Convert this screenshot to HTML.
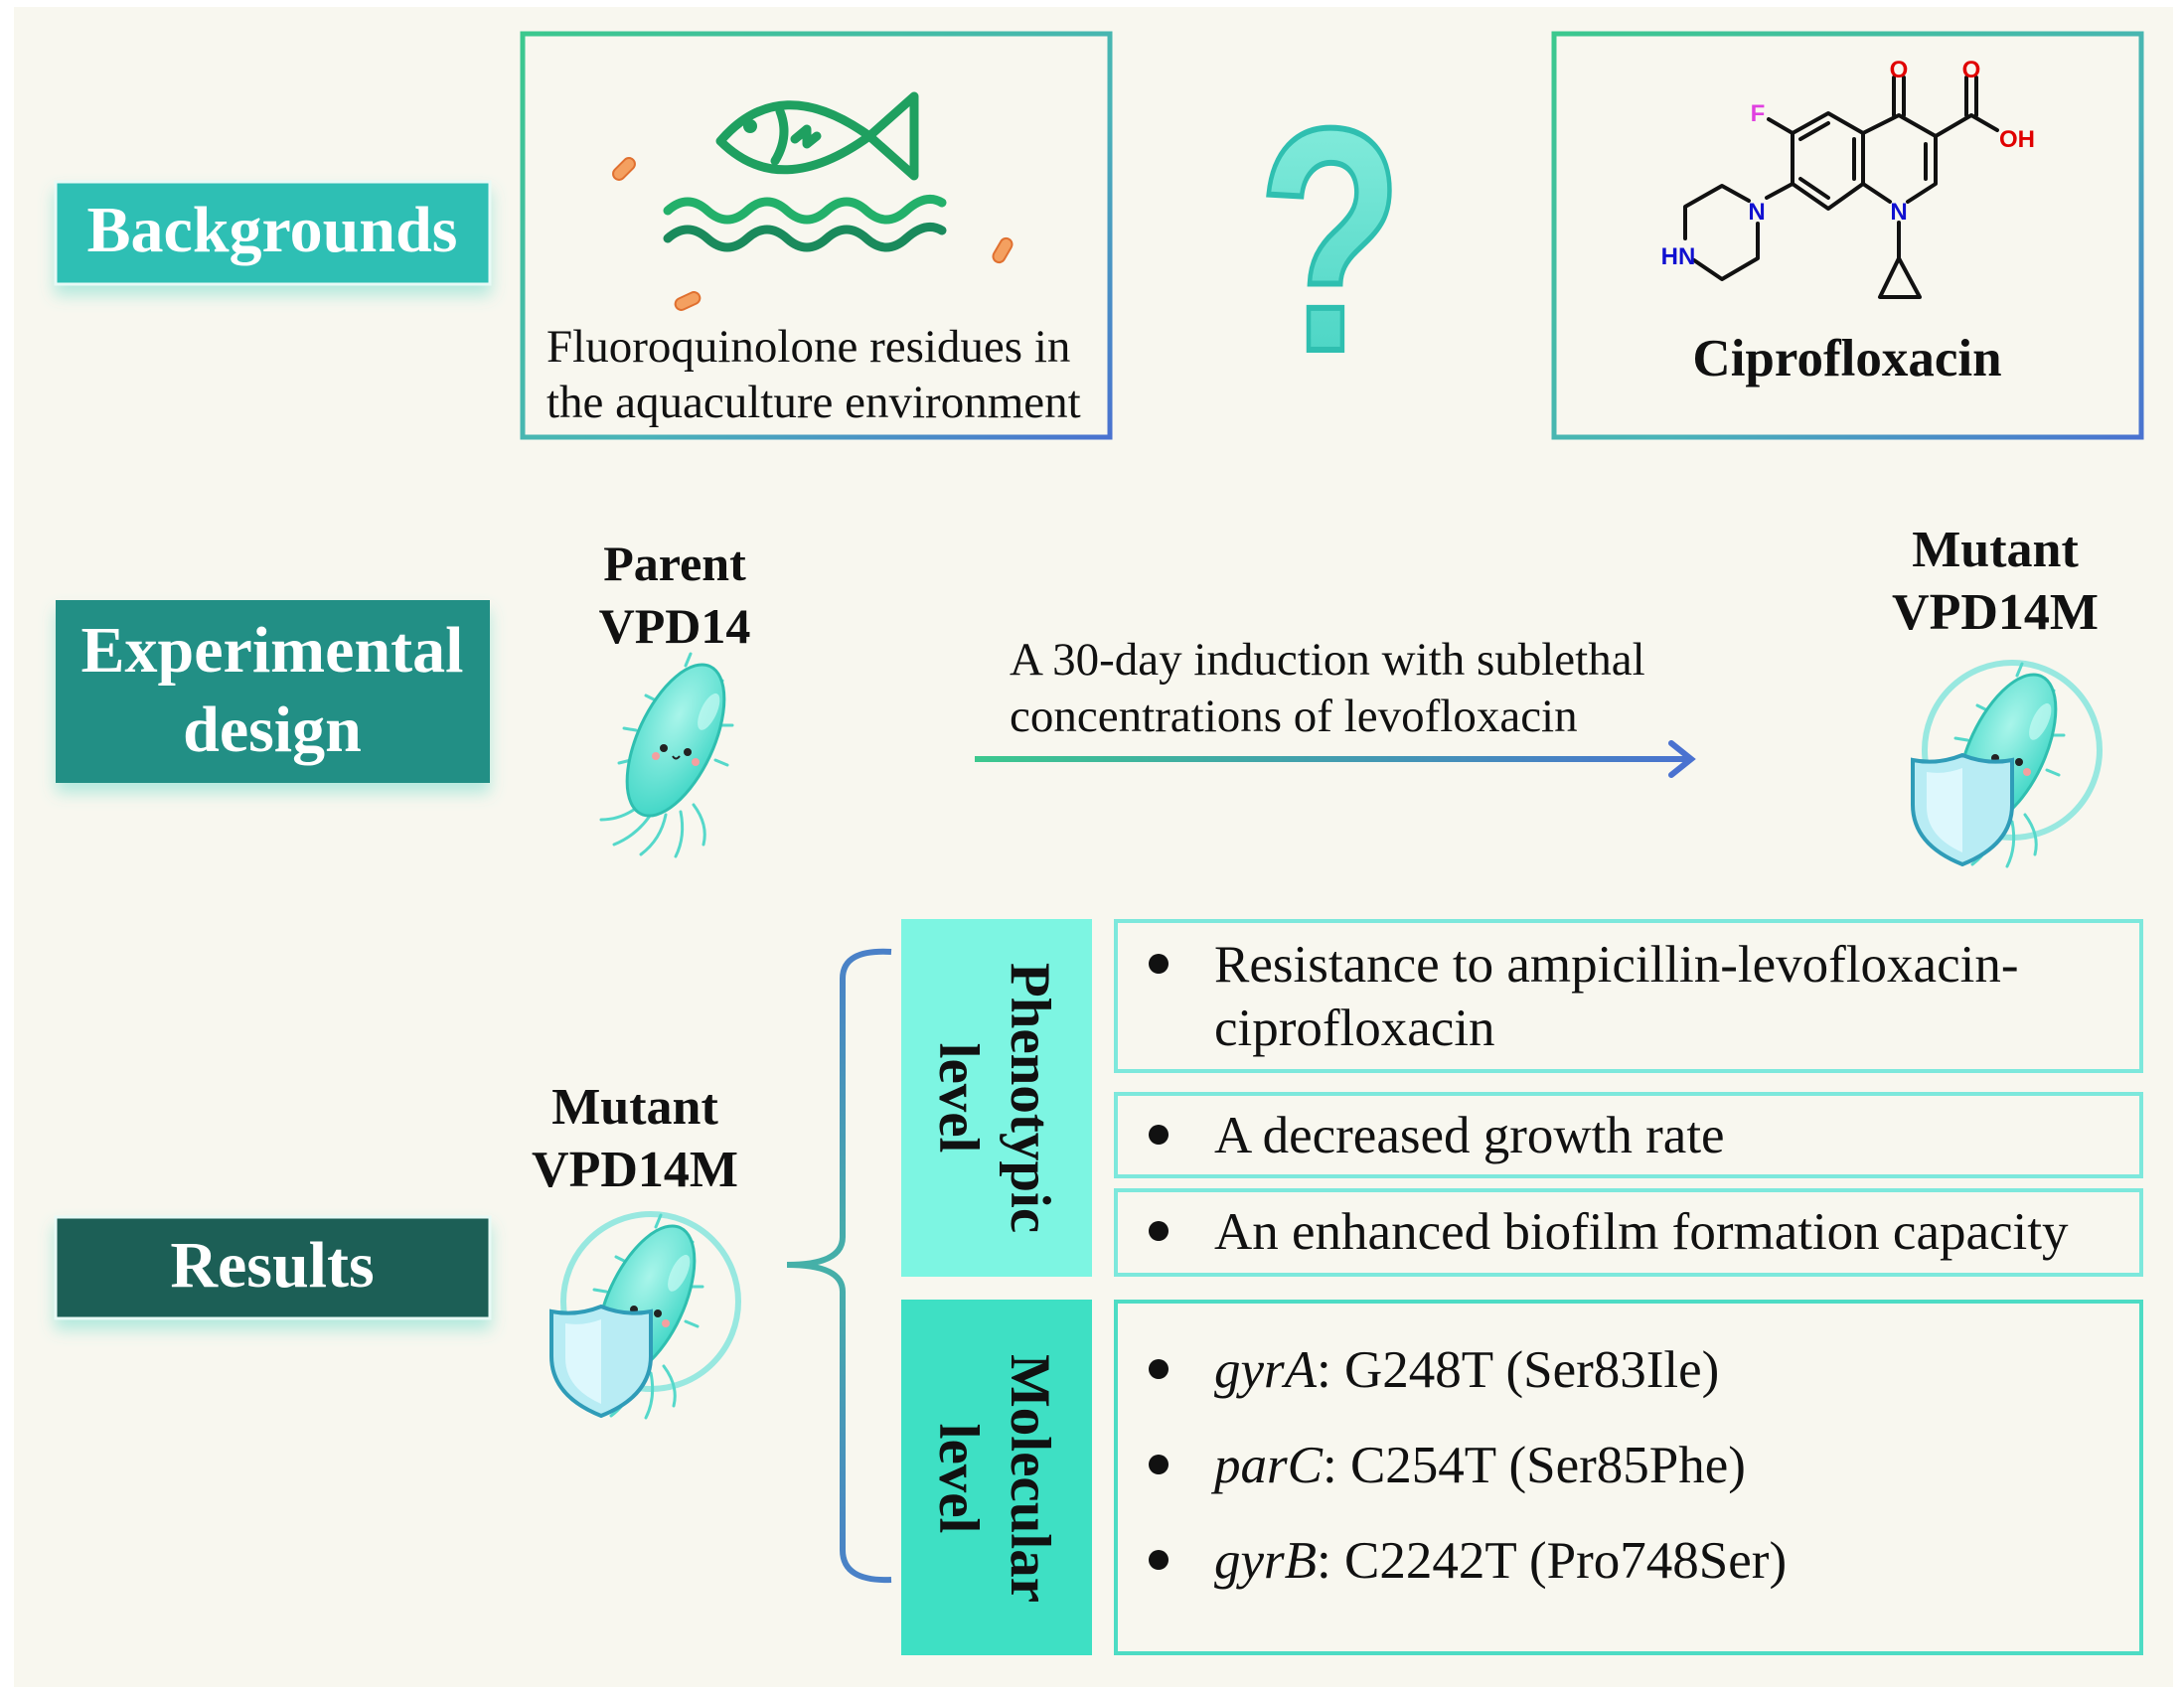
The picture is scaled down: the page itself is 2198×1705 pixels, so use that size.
<!DOCTYPE html>
<html><head><meta charset="utf-8"><style>
html,body{margin:0;padding:0;background:#fff;}
svg{display:block;}
text{font-family:"Liberation Serif",serif;}
text.sans{font-family:"Liberation Sans",sans-serif;}
</style></head><body>
<svg width="2198" height="1705" viewBox="0 0 2198 1705" xmlns="http://www.w3.org/2000/svg">
<defs>
<linearGradient id="gb" x1="0" y1="0" x2="1" y2="1"><stop offset="0" stop-color="#3cc88e"/><stop offset="0.6" stop-color="#4ab3b8"/><stop offset="1" stop-color="#4a72d0"/></linearGradient>
<linearGradient id="ga" gradientUnits="userSpaceOnUse" x1="981" y1="0" x2="1705" y2="0"><stop offset="0" stop-color="#3cc88e"/><stop offset="1" stop-color="#4a72d0"/></linearGradient>
<linearGradient id="gbr" gradientUnits="userSpaceOnUse" x1="0" y1="955" x2="0" y2="1592"><stop offset="0" stop-color="#4a80c8"/><stop offset="0.5" stop-color="#45b0a8"/><stop offset="1" stop-color="#4a80c8"/></linearGradient>
<linearGradient id="gq" x1="0" y1="0" x2="0" y2="1"><stop offset="0" stop-color="#8ff0e0"/><stop offset="1" stop-color="#3fd0c0"/></linearGradient>
<radialGradient id="gbody" cx="0.4" cy="0.35" r="0.7"><stop offset="0" stop-color="#a8f5ea"/><stop offset="1" stop-color="#3fd6c6"/></radialGradient>
<filter id="sh" x="-10%" y="-10%" width="120%" height="140%"><feDropShadow dx="0" dy="10" stdDeviation="8" flood-color="#5ed8c8" flood-opacity="0.45"/></filter>
<g id="bact">
  <g stroke="#55d8ca" stroke-width="3" fill="none" stroke-linecap="round">
    <path d="M-30 60 q-20 20 -45 20"/><path d="M-22 70 q-15 25 -40 35"/><path d="M-10 75 q-5 25 -25 40"/><path d="M5 72 q5 25 -5 45"/><path d="M18 65 q15 20 10 40"/>
    <path d="M-20 -40 l-10 -5"/><path d="M10 -75 l5 -12"/><path d="M35 -55 l12 -5"/><path d="M45 -15 l12 0"/><path d="M40 20 l12 5"/><path d="M-45 20 l-12 3"/><path d="M-40 -10 l-12 -2"/>
  </g>
  <ellipse cx="0" cy="0" rx="38" ry="82" transform="rotate(25)" fill="url(#gbody)" stroke="#2fbfb0" stroke-width="3"/>
  <ellipse cx="18" cy="-40" rx="8" ry="20" transform="rotate(25)" fill="#c8fbf3" opacity="0.7"/>
  <circle cx="-12" cy="8" r="4" fill="#222"/><circle cx="12" cy="12" r="4" fill="#222"/>
  <path d="M-3 16 q3 5 7 0" stroke="#222" stroke-width="2" fill="none"/>
  <circle cx="-20" cy="16" r="4" fill="#f4a0a0"/><circle cx="20" cy="22" r="4" fill="#f4a0a0"/>
</g>
<g id="mut">
  <circle cx="5" cy="0" r="88" fill="none" stroke="#7fe3dc" stroke-width="6" opacity="0.8"/>
  <use href="#bact"/>
  <path d="M-45 5 q-25 10 -50 5 v45 q0 40 50 60 q50 -20 50 -60 v-45 q-25 5 -50 -5z" fill="#b8ecf4" stroke="#2f9cb8" stroke-width="4"/>
  <path d="M-45 18 q-18 7 -36 4 v35 q0 30 36 46z" fill="#e6fbff" opacity="0.8"/>
</g>
</defs>
<rect x="14" y="7" width="2173" height="1691" fill="#f8f7ef"/>

<rect x="56" y="183" width="437" height="103" fill="#2fbfb4" stroke="#e8faf6" stroke-width="3" filter="url(#sh)"/>
<text x="274" y="253" font-size="66" font-weight="bold" fill="#fff" text-anchor="middle">Backgrounds</text>
<rect x="56" y="604" width="437" height="184" fill="#248f85" filter="url(#sh)"/>
<text x="274" y="676" font-size="66" font-weight="bold" fill="#fff" text-anchor="middle">Experimental</text>
<text x="274" y="756" font-size="66" font-weight="bold" fill="#fff" text-anchor="middle">design</text>
<rect x="56" y="1225" width="437" height="102" fill="#1b5f57" stroke="#e8faf6" stroke-width="3" filter="url(#sh)"/>
<text x="274" y="1295" font-size="66" font-weight="bold" fill="#fff" text-anchor="middle">Results</text>

<rect x="526" y="34" width="591" height="406" fill="none" stroke="url(#gb)" stroke-width="5"/>
<g fill="none" stroke="#1fa060" stroke-width="9" stroke-linecap="round" stroke-linejoin="round">
  <path d="M725 142 q60 -70 150 -5 q-90 65 -150 5z"/>
  <path d="M875 137 l45 -40 v80 z"/>
  <path d="M785 112 q10 25 -5 50"/>
  <path d="M800 140 l12 -10 v15 l10 -8"/>
</g>
<circle cx="755" cy="127" r="7" fill="#1fa060"/>
<path d="M672 212 q20 -18 40 0 t40 0 t40 0 t40 0 t40 0 t40 0 t36 -8" fill="none" stroke="#23b06a" stroke-width="9" stroke-linecap="round"/>
<path d="M672 240 q20 -18 40 0 t40 0 t40 0 t40 0 t40 0 t40 0 t36 -8" fill="none" stroke="#1a8a5c" stroke-width="9" stroke-linecap="round"/>
<g fill="#f4a060" stroke="#e07030" stroke-width="2">
  <rect x="-13" y="-6" width="26" height="12" rx="6" transform="translate(628,170) rotate(-45)"/>
  <rect x="-13" y="-6" width="26" height="12" rx="6" transform="translate(1009,252) rotate(-60)"/>
  <rect x="-13" y="-6" width="26" height="12" rx="6" transform="translate(692,303) rotate(-25)"/>
</g>
<text x="550" y="364" font-size="47" fill="#111">Fluoroquinolone residues in</text>
<text x="550" y="420" font-size="47" fill="#111">the aquaculture environment</text>

<text class="sans" transform="translate(1339,352) scale(0.75,1)" font-size="320" font-weight="bold" text-anchor="middle" fill="url(#gq)" stroke="#2fbfb0" stroke-width="6">?</text>

<rect x="1564" y="34" width="591" height="406" fill="none" stroke="url(#gb)" stroke-width="5"/>
<g stroke="#111" stroke-width="4" fill="none" stroke-linecap="round" stroke-linejoin="round">
  <path d="M1840 114 L1875 134 L1875 185 L1840 210 L1804 185 L1804 134 Z"/>
  <path d="M1875 134 L1911 116 L1948 137 L1948 185 L1920 203"/>
  <path d="M1902 203 L1875 185"/>
  <path d="M1812 140 L1840 124 M1812 180 L1840 199 M1866 140 L1866 180 M1938 145 L1938 180"/>
  <path d="M1906 116 V78 M1916 116 V78"/>
  <path d="M1948 137 L1984 116 L2010 131"/>
  <path d="M1979 116 V78 M1989 116 V78"/>
  <path d="M1804 134 L1780 120"/>
  <path d="M1804 185 L1778 199"/>
  <path d="M1760 202 L1733 187 L1696 208 L1696 240 M1705 262 L1733 281 L1769 260 L1769 225"/>
  <path d="M1911 224 V260 M1911 260 L1892 299 L1932 299 Z"/>
</g>
<g font-weight="bold" font-size="24">
  <text class="sans" x="1911" y="78" fill="#e00000" text-anchor="middle">O</text>
  <text class="sans" x="1984" y="78" fill="#e00000" text-anchor="middle">O</text>
  <text class="sans" x="2030" y="148" fill="#e00000" text-anchor="middle">OH</text>
  <text class="sans" x="1769" y="122" fill="#e040e0" text-anchor="middle">F</text>
  <text class="sans" x="1768" y="221" fill="#1010d0" text-anchor="middle">N</text>
  <text class="sans" x="1911" y="221" fill="#1010d0" text-anchor="middle">N</text>
  <text class="sans" x="1689" y="266" fill="#1010d0" text-anchor="middle">HN</text>
</g>
<text x="1859" y="378" font-size="53" font-weight="bold" text-anchor="middle" fill="#111">Ciprofloxacin</text>

<text x="679" y="584" font-size="50" font-weight="bold" text-anchor="middle" fill="#111">Parent</text>
<text x="679" y="647" font-size="50" font-weight="bold" text-anchor="middle" fill="#111">VPD14</text>
<use href="#bact" transform="translate(680,745)"/>
<text x="1016" y="679" font-size="47" fill="#111">A 30-day induction with sublethal</text>
<text x="1016" y="736" font-size="47" fill="#111">concentrations of levofloxacin</text>
<path d="M981 764 H1700" stroke="url(#ga)" stroke-width="6" fill="none"/>
<path d="M1682 748 L1702 764 L1682 780" stroke="#4a72d0" stroke-width="6" fill="none" stroke-linecap="round"/>
<text x="2008" y="570" font-size="52" font-weight="bold" text-anchor="middle" fill="#111">Mutant</text>
<text x="2008" y="633" font-size="52" font-weight="bold" text-anchor="middle" fill="#111">VPD14M</text>
<use href="#mut" transform="translate(2020,755)"/>

<text x="639" y="1131" font-size="52" font-weight="bold" text-anchor="middle" fill="#111">Mutant</text>
<text x="639" y="1194" font-size="52" font-weight="bold" text-anchor="middle" fill="#111">VPD14M</text>
<use href="#mut" transform="translate(650,1310)"/>
<path d="M897 958 Q848 955 848 985 V1245 Q848 1273 792 1273 Q848 1273 848 1300 V1560 Q848 1592 897 1590" fill="none" stroke="url(#gbr)" stroke-width="6"/>

<rect x="907" y="925" width="192" height="360" fill="#7df5e2"/>
<rect x="907" y="1308" width="192" height="358" fill="#3ee0c4"/>
<g font-size="57" font-weight="bold" fill="#111">
  <text transform="translate(1018,1105) rotate(90)" text-anchor="middle">Phenotypic</text>
  <text transform="translate(946,1105) rotate(90)" text-anchor="middle">level</text>
  <text transform="translate(1018,1488) rotate(90)" text-anchor="middle">Molecular</text>
  <text transform="translate(946,1488) rotate(90)" text-anchor="middle">level</text>
</g>
<g fill="none" stroke="#7de8dc" stroke-width="4">
  <rect x="1123" y="927" width="1032" height="151"/>
  <rect x="1123" y="1101" width="1032" height="83"/>
  <rect x="1123" y="1198" width="1032" height="85"/>
  <rect x="1123" y="1310" width="1032" height="354" stroke="#4ddcc4"/>
</g>
<g fill="#111">
  <circle cx="1166" cy="970" r="10"/><circle cx="1166" cy="1142" r="10"/><circle cx="1166" cy="1239" r="10"/>
  <circle cx="1166" cy="1378" r="10"/><circle cx="1166" cy="1474" r="10"/><circle cx="1166" cy="1570" r="10"/>
</g>
<g font-size="53" fill="#111">
  <text x="1222" y="988">Resistance to ampicillin-levofloxacin-</text>
  <text x="1222" y="1052">ciprofloxacin</text>
  <text x="1222" y="1160">A decreased growth rate</text>
  <text x="1222" y="1257">An enhanced biofilm formation capacity</text>
  <text x="1222" y="1396"><tspan font-style="italic">gyrA</tspan>: G248T (Ser83Ile)</text>
  <text x="1222" y="1492"><tspan font-style="italic">parC</tspan>: C254T (Ser85Phe)</text>
  <text x="1222" y="1588"><tspan font-style="italic">gyrB</tspan>: C2242T (Pro748Ser)</text>
</g>
</svg>
</body></html>
